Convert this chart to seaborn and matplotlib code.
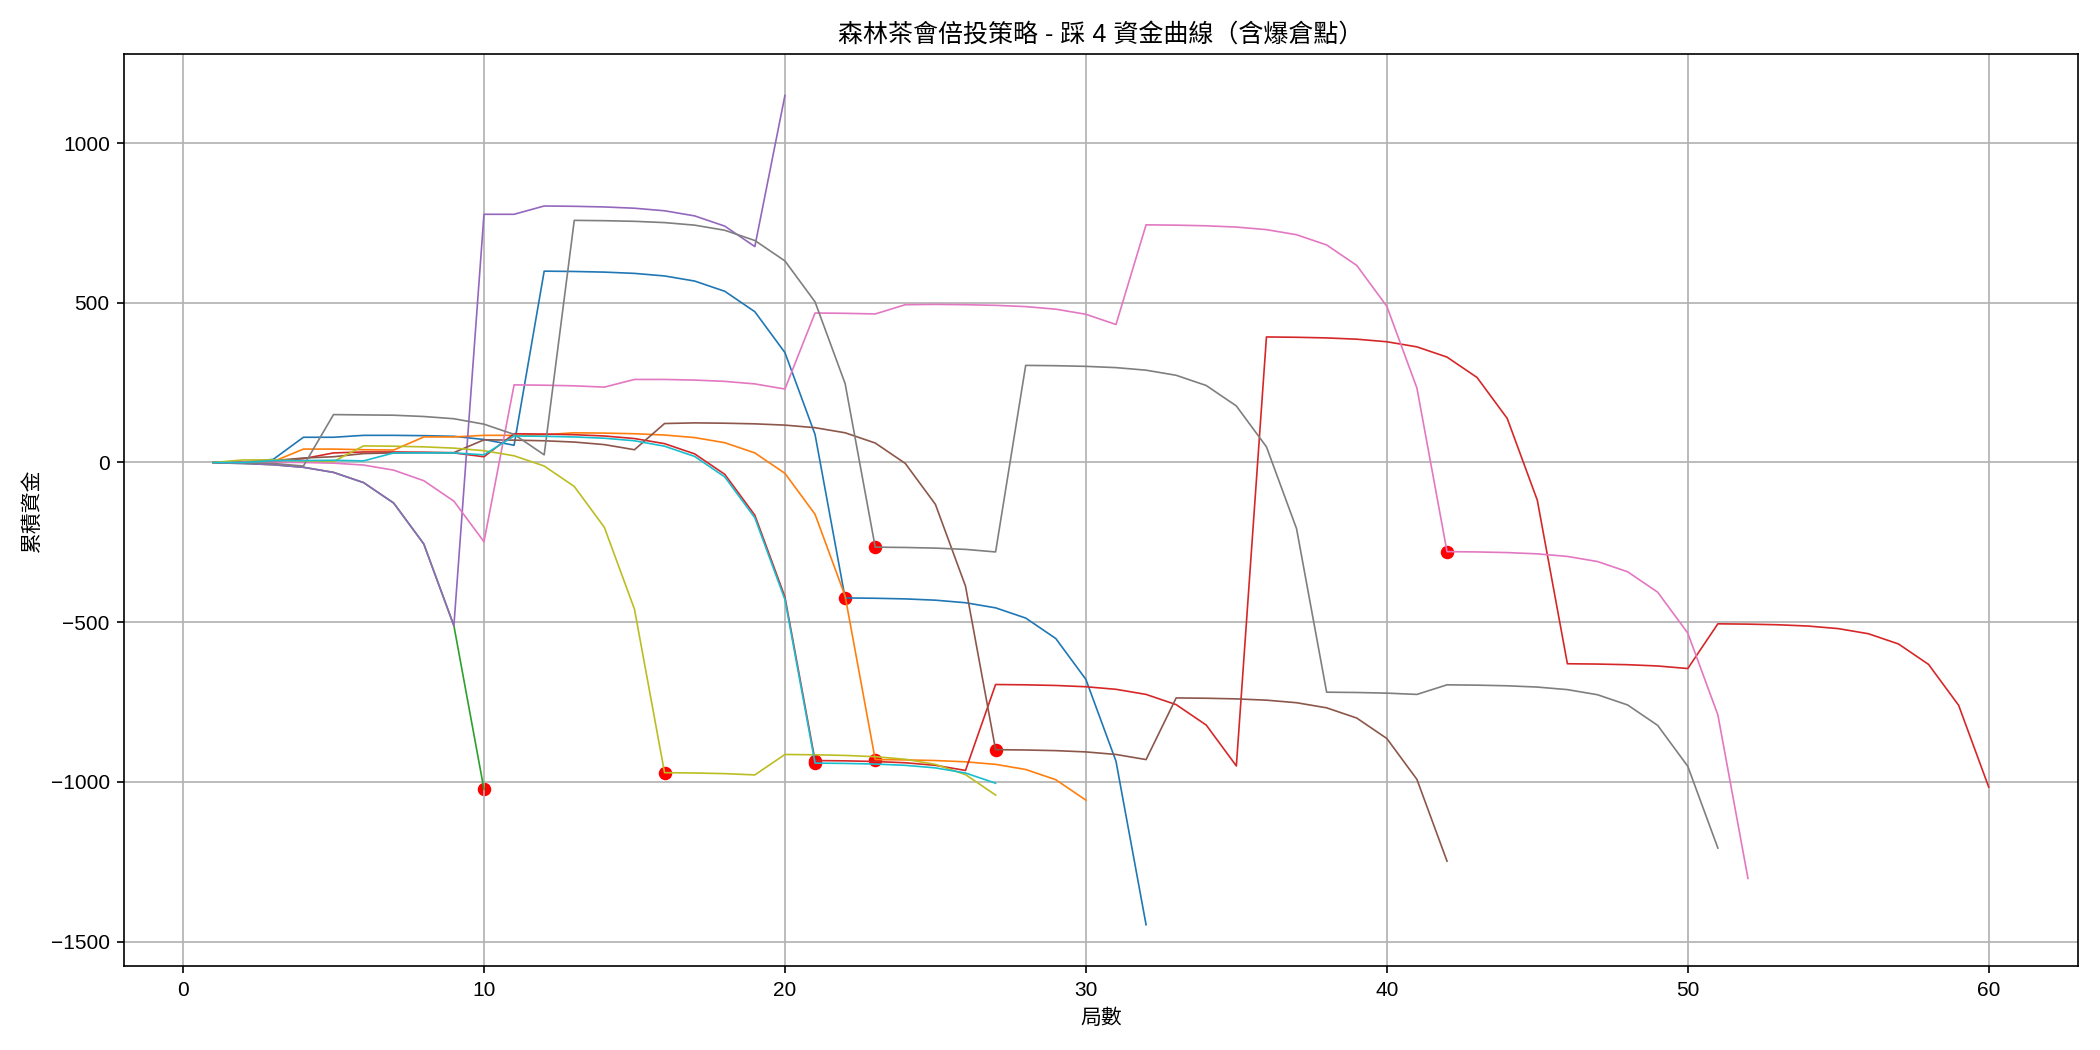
import matplotlib
matplotlib.use("Agg")
import matplotlib.pyplot as plt
import seaborn as sns

plt.rcParams['font.family'] = ['Liberation Sans', 'Noto Sans CJK TC', 'DejaVu Sans']
plt.rcParams['axes.unicode_minus'] = True

# cumulative capital of each run (round 1, 2, 3, ...)
run_blue = [0, 0, 10, 79, 79, 85, 85, 84, 82, 72, 54, 599, 598, 596, 592, 584, 568, 536, 472, 344,
            88, -424, -425, -427, -431, -439, -455, -487, -551, -679, -935, -1447]
run_orange = [0, 1, 3, 42, 42, 40, 39, 80, 80, 85, 85, 87, 93, 92, 90, 86, 78, 62, 30, -34,
              -162, -418, -930, -931, -933, -937, -945, -961, -993, -1057]
run_purple = [-1, -3, -7, -15, -31, -63, -127, -255, -511, 777, 777, 803, 802, 800, 796, 788, 772, 740, 676, 1149]
run_green = [-1, -3, -7, -15, -31, -63, -127, -255, -511, -1023]
run_red = [0, 2, 4, 12, 30, 33, 33, 32, 30, 18, 90, 89, 87, 83, 75, 59, 27, -37, -165, -421,
           -933, -934, -936, -940, -948, -964, -695, -696, -698, -702, -710, -726, -758, -822, -950,
           393, 392, 390, 386, 378, 362, 330, 266, 138, -118, -630, -631, -633, -637, -645,
           -505, -506, -508, -512, -520, -536, -568, -632, -760, -1016]
run_brown = [0, 2, 6, 14, 18, 28, 30, 31, 31, 71, 70, 68, 64, 56, 40, 122, 124, 123, 121, 117,
             109, 93, 61, -3, -131, -387, -899, -900, -902, -906, -914, -930, -737, -738, -740, -744,
             -752, -768, -800, -864, -992, -1248]
run_pink = [0, 1, 1, 0, -2, -8, -24, -57, -121, -248, 243, 242, 240, 236, 260, 260, 258, 254, 246, 230,
            468, 467, 465, 494, 495, 494, 492, 488, 480, 464, 432, 744, 743, 741, 737, 729, 713, 681,
            617, 489, 233, -279, -280, -282, -286, -294, -310, -342, -406, -534, -790, -1302]
run_gray = [0, -1, -3, -11, 150, 149, 148, 144, 137, 120, 88, 24, 758, 757, 755, 751, 743, 727, 695, 631,
            503, 247, -265, -266, -268, -272, -280, 304, 303, 301, 297, 289, 273, 241, 177, 49, -207,
            -719, -720, -722, -726, -696, -697, -699, -703, -711, -727, -759, -823, -951, -1207]
run_olive = [0, 8, 8, 5, 3, 52, 51, 49, 45, 37, 21, -11, -75, -203, -459, -971, -972, -974, -978,
             -914, -915, -917, -921, -929, -945, -977, -1041]
run_cyan = [0, 0, 6, 6, 7, 5, 30, 30, 30, 24, 83, 82, 80, 76, 68, 51, 19, -45, -173, -429,
            -941, -942, -944, -948, -956, -972, -1004]

# burst points (round, capital)
burst_x = [10, 16, 21, 21, 22, 23, 23, 27, 42]
burst_y = [-1023, -971, -933, -941, -424, -265, -930, -899, -279]

runs = [run_blue, run_orange, run_green, run_red, run_purple,
        run_brown, run_pink, run_gray, run_olive, run_cyan]
palette = sns.color_palette('tab10', 10)

fig, ax = plt.subplots(figsize=(14, 7), dpi=150)

for i, run in enumerate(runs):
    rounds = list(range(1, len(run) + 1))
    sns.lineplot(x=rounds, y=run, color=palette[i], linewidth=0.8, ax=ax)

sns.scatterplot(x=burst_x, y=burst_y, color='red', s=42, linewidth=0, zorder=1, ax=ax)

ax.set_title('森林茶會倍投策略 - 踩 4 資金曲線（含爆倉點）', fontsize=12)
ax.set_xlabel('局數')
ax.set_ylabel('累積資金')
ax.grid(True)

plt.tight_layout()
plt.savefig('out.png')
